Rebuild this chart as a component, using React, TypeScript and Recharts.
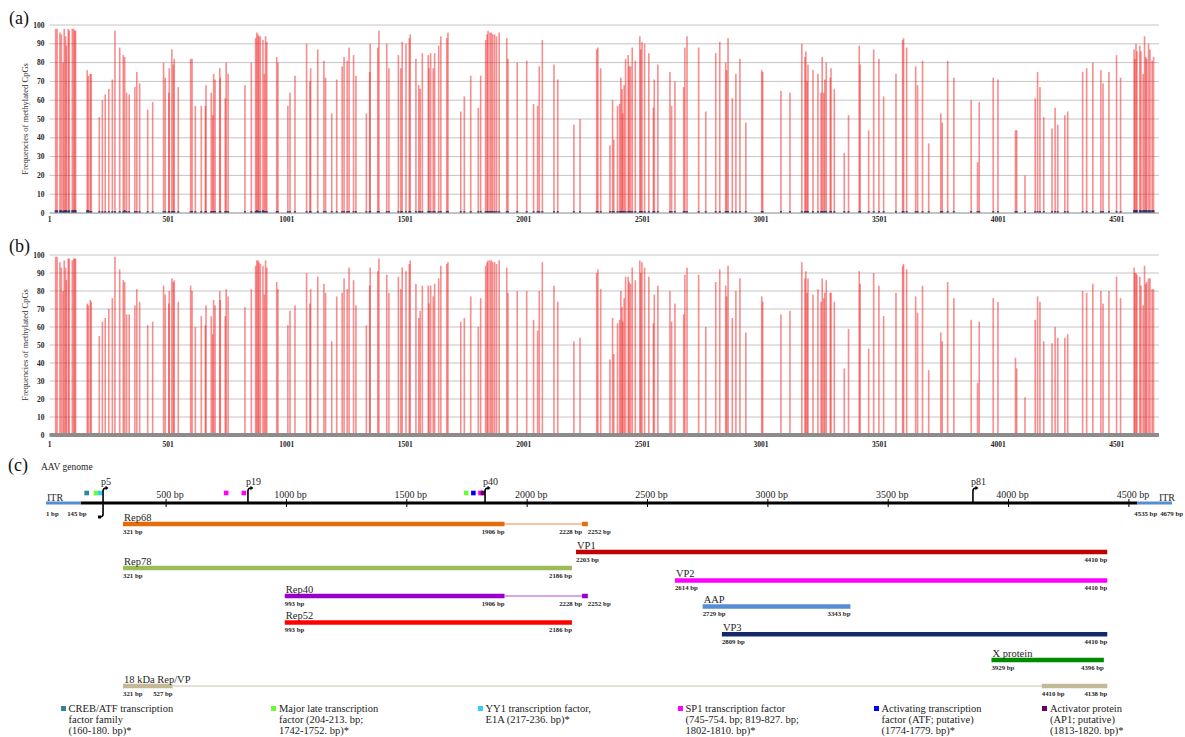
import React from 'react';
import {
  BarChart,
  Bar,
  XAxis,
  YAxis,
  CartesianGrid,
  Label,
  ComposedChart,
  ReferenceLine,
  Scatter,
} from 'recharts';

const SERIF = '"Liberation Serif", "Times New Roman", serif';

// CpG sites along the AAV genome (bp)
const cpgSites = [
  27, 33, 45, 51, 58, 63, 69, 72, 80, 84, 97, 103, 107, 111,
  160, 165, 173, 177, 211, 224, 236, 251, 266, 277, 297, 312, 318, 326, 337, 361,
  369, 381, 415, 436, 482, 489, 504, 506, 517, 523, 527, 544, 596, 602, 616, 641,
  658, 661, 683, 689, 693, 699, 719, 721, 742, 746, 754, 825, 852, 870, 875, 880,
  884, 890, 901, 907, 912, 917, 959, 964, 1006, 1015, 1036, 1085, 1099, 1102, 1132, 1158,
  1165, 1191, 1212, 1235, 1243, 1256, 1264, 1283, 1293, 1337, 1351, 1353, 1385, 1390, 1423, 1432,
  1472, 1482, 1488, 1504, 1518, 1522, 1546, 1558, 1564, 1573, 1598, 1601, 1608, 1619, 1625, 1642,
  1651, 1676, 1681, 1735, 1750, 1777, 1809, 1819, 1840, 1846, 1850, 1858, 1864, 1870, 1878, 1886,
  1897, 1929, 1934, 1973, 2013, 2042, 2059, 2066, 2079, 2128, 2144, 2212, 2238, 2308, 2313, 2325,
  2364, 2375, 2380, 2396, 2405, 2410, 2415, 2418, 2424, 2430, 2441, 2445, 2451, 2458, 2471, 2490,
  2494, 2499, 2510, 2528, 2547, 2551, 2566, 2617, 2624, 2638, 2675, 2680, 2689, 2738, 2768, 2810,
  2827, 2852, 2856, 2862, 2880, 2895, 2912, 2937, 3004, 3008, 3085, 3123, 3173, 3186, 3190, 3195,
  3199, 3220, 3241, 3254, 3259, 3265, 3270, 3276, 3293, 3296, 3310, 3352, 3370, 3415, 3419, 3455,
  3476, 3498, 3518, 3570, 3598, 3602, 3615, 3653, 3661, 3682, 3708, 3759, 3765, 3788, 3814, 3887,
  3914, 3921, 3980, 4000, 4074, 4079, 4114, 4157, 4167, 4177, 4193, 4228, 4241, 4252, 4282, 4294,
  4357, 4374, 4400, 4434, 4443, 4468, 4500, 4517,
  4574, 4577, 4582, 4586, 4598, 4603, 4612, 4618, 4623, 4627, 4635, 4641, 4650, 4656,
];

// (a) frequencies of methylated CpGs
const methA = [
  98, 98, 96, 95, 80, 98, 94, 89, 98, 97, 98, 98, 97, 97,
  76, 73, 74, 74, 51, 60, 63, 66, 71, 97, 88, 84, 83, 64, 63, 67,
  75, 69, 55, 59, 80, 72, 64, 77, 87, 79, 82, 67, 82, 82, 57, 57,
  57, 68, 64, 52, 74, 71, 77, 72, 61, 80, 74, 68, 80, 93, 96, 95,
  94, 94, 92, 74, 94, 91, 83, 80, 57, 64, 73, 90, 70, 77, 87, 81,
  72, 53, 71, 78, 83, 81, 88, 84, 73, 53, 75, 90, 88, 97, 90, 77,
  84, 77, 91, 90, 93, 95, 82, 68, 66, 85, 84, 77, 85, 77, 85, 89,
  94, 93, 96, 54, 62, 73, 56, 73, 92, 95, 97, 96, 96, 95, 95, 94,
  96, 93, 82, 80, 81, 58, 57, 78, 92, 79, 71, 47, 50, 87, 88, 77,
  36, 60, 39, 57, 58, 72, 66, 53, 68, 82, 84, 78, 78, 88, 81, 94,
  87, 91, 90, 85, 56, 71, 79, 75, 57, 70, 67, 88, 94, 88, 54, 85,
  91, 80, 76, 93, 61, 74, 82, 48, 76, 75, 65, 64, 90, 83, 86, 70,
  79, 76, 74, 64, 83, 64, 71, 80, 72, 77, 66, 32, 52, 89, 79, 44,
  87, 82, 62, 74, 92, 93, 88, 78, 68, 81, 37, 53, 48, 81, 72, 60,
  27, 59, 72, 71, 44, 44, 20, 61, 75, 67, 51, 45, 56, 47, 52, 54,
  75, 77, 80, 76, 69, 75, 84, 72,
  87, 82, 90, 86, 89, 86, 74, 94, 83, 82, 90, 87, 81, 83,
];

// (a) near-zero series drawn as dark marks at the base
const ctrlA = [
  1.5, 1.5, 1.5, 1.5, 1, 1.5, 1.5, 1.5, 1, 1.5, 1.5, 1.5, 1.5, 1.5,
  1.5, 1.5, 1, 1, 1, 1, 1, 1, 1, 1, 1, 1, 1.5, 1, 1, 1,
  1, 1, 1, 1, 1, 1, 1, 1, 1, 1, 1, 1, 1, 1, 1, 1,
  1, 1, 1, 1, 1, 1, 1, 1, 1, 1, 1, 1, 1, 1, 1.5, 1,
  1, 1, 1.5, 1, 1, 1, 1, 1, 1, 1, 1, 1, 1, 1, 1, 1,
  1, 1, 1, 1, 1, 1, 1, 1, 1, 1, 1, 1, 1, 1, 1, 1,
  1, 1, 1, 1, 1, 1, 1, 1, 1, 1, 1, 1, 1, 1, 1, 1,
  1, 1, 1, 1, 1, 1, 1, 1, 1, 1, 1, 1, 1, 1, 1, 1,
  1, 1, 1, 1, 1, 1, 1, 1, 1, 1, 1, 1, 1, 1, 1, 1,
  1, 1, 1, 1, 1, 1, 1, 1, 1, 1, 1, 1, 1, 1, 1, 1,
  1, 1, 1, 1, 1, 1, 1, 1, 1, 1, 1, 1, 1, 1, 1, 1,
  1, 1, 1, 1, 1, 1, 1, 1, 1, 1, 1, 1, 1, 1, 1, 1,
  1, 1, 1, 1, 1, 1, 1, 1, 1, 1, 1, 1, 1, 1, 1, 1,
  1, 1, 1, 1, 1, 1, 1, 1, 1, 1, 1, 1, 1, 1, 1, 1,
  1, 1, 1, 1, 1, 1, 1, 1, 1, 1, 1, 1, 1, 1, 1, 1,
  1, 1, 1, 1, 1, 1, 1, 1,
  1.5, 1.5, 1.5, 1.5, 1.5, 1.5, 1.5, 1.5, 1.5, 1.5, 1.5, 1.5, 1.5, 1.5,
];

// (b) frequencies of methylated CpGs
const methB = [
  99, 99, 96, 93, 80, 97, 93, 86, 98, 98, 97, 98, 98, 98,
  73, 72, 75, 74, 55, 63, 65, 70, 76, 99, 92, 86, 85, 67, 67, 72,
  81, 74, 61, 63, 83, 78, 73, 80, 87, 85, 86, 74, 83, 80, 60, 66,
  61, 72, 66, 56, 75, 72, 80, 75, 66, 81, 77, 71, 81, 94, 97, 97,
  96, 95, 94, 78, 97, 93, 85, 81, 61, 69, 72, 90, 73, 81, 88, 84,
  79, 52, 77, 79, 87, 81, 93, 86, 72, 61, 83, 93, 91, 98, 89, 79,
  88, 81, 93, 91, 95, 97, 84, 65, 69, 83, 83, 73, 83, 77, 84, 87,
  94, 95, 96, 63, 65, 77, 60, 76, 94, 96, 97, 97, 97, 96, 96, 95,
  97, 93, 79, 80, 80, 64, 58, 80, 96, 83, 74, 52, 54, 90, 92, 81,
  42, 65, 45, 62, 64, 80, 71, 63, 76, 88, 88, 85, 84, 93, 86, 97,
  90, 96, 93, 88, 62, 78, 83, 80, 63, 73, 67, 89, 93, 89, 60, 85,
  92, 83, 77, 94, 65, 80, 87, 57, 77, 74, 67, 69, 96, 87, 91, 79,
  87, 78, 81, 74, 87, 76, 79, 86, 79, 79, 74, 37, 59, 91, 84, 48,
  90, 83, 66, 79, 94, 95, 92, 77, 68, 83, 36, 57, 52, 85, 76, 64,
  29, 63, 76, 74, 43, 37, 21, 64, 77, 74, 52, 51, 60, 54, 54, 56,
  80, 79, 84, 80, 73, 80, 88, 76,
  93, 90, 90, 89, 88, 83, 72, 94, 84, 85, 87, 87, 81, 81,
];

const siteTicks = [1, 501, 1001, 1501, 2001, 2501, 3001, 3501, 4001, 4501];
const freqTicks = [0, 10, 20, 30, 40, 50, 60, 70, 80, 90, 100];

// genome map (c)
const genomeLength = 4679;
const genomeTicks = [500, 1000, 1500, 2000, 2500, 3000, 3500, 4000, 4500];
const itrRegions = [[1, 145], [4535, 4679]];
const itrMarks: [number, string, 'start' | 'end', number][] = [
  [1, '1 bp', 'start', 0],
  [145, '145 bp', 'end', 6],
  [4535, '4535 bp', 'start', -3],
  [4679, '4679 bp', 'end', 11],
];
const promoters = [
  { name: 'p5', at: 238, both: true },
  { name: 'p19', at: 840, both: false },
  { name: 'p40', at: 1825, both: false },
  { name: 'p81', at: 3852, both: false },
];
const tfSites = [
  { tf: 'creb', start: 160, end: 180 },
  { tf: 'mlt', start: 204, end: 213 },
  { tf: 'yy1', start: 217, end: 236 },
  { tf: 'sp1', start: 745, end: 754 },
  { tf: 'sp1', start: 819, end: 827 },
  { tf: 'mlt', start: 1742, end: 1752 },
  { tf: 'atf', start: 1774, end: 1779 },
  { tf: 'sp1', start: 1802, end: 1810 },
  { tf: 'ap1', start: 1813, end: 1820 },
];
type Mark = [number, string, 'start' | 'end'];
const proteins: { name: string; coding: number[][]; spliced: number[][]; marks: Mark[] }[] = [
  { name: 'Rep68', coding: [[321, 1906], [2228, 2252]], spliced: [[1906, 2228]],
    marks: [[321, '321 bp', 'start'], [1906, '1906 bp', 'end'], [2228, '2228 bp', 'end'], [2252, '2252 bp', 'start']] },
  { name: 'VP1', coding: [[2203, 4410]], spliced: [], marks: [[2203, '2203 bp', 'start'], [4410, '4410 bp', 'end']] },
  { name: 'Rep78', coding: [[321, 2186]], spliced: [], marks: [[321, '321 bp', 'start'], [2186, '2186 bp', 'end']] },
  { name: 'VP2', coding: [[2614, 4410]], spliced: [], marks: [[2614, '2614 bp', 'start'], [4410, '4410 bp', 'end']] },
  { name: 'Rep40', coding: [[993, 1906], [2228, 2252]], spliced: [[1906, 2228]],
    marks: [[993, '993 bp', 'start'], [1906, '1906 bp', 'end'], [2228, '2228 bp', 'end'], [2252, '2252 bp', 'start']] },
  { name: 'AAP', coding: [[2729, 3343]], spliced: [], marks: [[2729, '2729 bp', 'start'], [3343, '3343 bp', 'end']] },
  { name: 'Rep52', coding: [[993, 2186]], spliced: [], marks: [[993, '993 bp', 'start'], [2186, '2186 bp', 'end']] },
  { name: 'VP3', coding: [[2809, 4410]], spliced: [], marks: [[2809, '2809 bp', 'start'], [4410, '4410 bp', 'end']] },
  { name: 'X protein', coding: [[3929, 4396]], spliced: [], marks: [[3929, '3929 bp', 'start'], [4396, '4396 bp', 'end']] },
  { name: '18 kDa Rep/VP', coding: [[321, 527], [4138, 4410]], spliced: [[527, 4138]],
    marks: [[321, '321 bp', 'start'], [527, '527 bp', 'end'], [4138, '4410 bp', 'start'], [4410, '4138 bp', 'end']] },
];
const legendItems = [
  { tf: 'creb', lines: ['CREB/ATF transcription', 'factor family', '(160-180. bp)*'] },
  { tf: 'mlt', lines: ['Major late transcription', 'factor (204-213. bp;', '1742-1752. bp)*'] },
  { tf: 'yy1', lines: ['YY1 transcription factor,', 'E1A (217-236. bp)*'] },
  { tf: 'sp1', lines: ['SP1 transcription factor', '(745-754. bp; 819-827. bp;', '1802-1810. bp)*'] },
  { tf: 'atf', lines: ['Activating transcription', 'factor (ATF; putative)', '(1774-1779. bp)*'] },
  { tf: 'ap1', lines: ['Activator protein', '(AP1; putative)', '(1813-1820. bp)*'] },
];

// styles / layout
const tfColors: Record<string, string> = {
  creb: '#31849b', mlt: '#66ff33', yy1: '#33ccff', sp1: '#ff00ff', atf: '#0000ff', ap1: '#660066',
};
const proteinColors: Record<string, string[]> = {
  Rep68: ['#e46c0a', '#f4b183'],
  VP1: ['#c00000'],
  Rep78: ['#9bbb59'],
  VP2: ['#ff00ff'],
  Rep40: ['#9900cc', '#cc88e0'],
  AAP: ['#558ed5'],
  Rep52: ['#ff0000'],
  VP3: ['#14286a'],
  'X protein': ['#008a00'],
  '18 kDa Rep/VP': ['#c4b996', '#ddd8c4'],
};
// row of each protein bar, in map units (px from top of the map)
const rowY: Record<string, number> = {
  Rep68: 74, VP1: 102, Rep78: 118, VP2: 130.5, Rep40: 146, AAP: 156.5,
  Rep52: 172.5, VP3: 184.3, 'X protein': 210, '18 kDa Rep/VP': 236,
};
const LINE_Y = 53;
const legendX = [63, 273.5, 480, 680, 876, 1044.5];

const dataA = cpgSites.map((pos, i) => ({ pos, meth: methA[i], ctrl: ctrlA[i] }));
const dataB = cpgSites.map((pos, i) => ({ pos, meth: methB[i] }));

const thinBar = (color: string, opacity: number, w: number) => (p: any) => (
  <rect
    x={p.x + p.width / 2 - w / 2}
    y={p.y}
    width={w}
    height={Math.max(p.height, 0)}
    fill={color}
    fillOpacity={opacity}
  />
);

const tickFont = { fontSize: 7.5, fontFamily: SERIF, fontWeight: 'bold', fill: '#262626' };

function MethChart({ data, top, height, axisH, tickGap, base, ctrl }: any) {
  return (
    <div style={{ position: 'absolute', left: 0, top }}>
      <BarChart width={1185} height={height} data={data} margin={{ top: 25, right: 26, bottom: 0, left: 0 }}>
        <CartesianGrid vertical={false} stroke="#c4c4c4" />
        <XAxis
          dataKey="pos"
          type="number"
          domain={[1, genomeLength]}
          ticks={siteTicks}
          interval={0}
          height={axisH}
          tickLine={false}
          tickSize={0}
          tickMargin={tickGap}
          axisLine={base}
          tick={tickFont}
        />
        <XAxis xAxisId="ctrl" dataKey="pos" type="number" domain={[1, genomeLength]} hide />
        <YAxis
          domain={[0, 100]}
          ticks={freqTicks}
          interval={0}
          width={49.5}
          tickLine={false}
          tickSize={0}
          tickMargin={5}
          axisLine={false}
          tick={tickFont}
        >
          <Label
            value="Frequencies of methylated CpGs"
            angle={-90}
            position="center"
            style={{ fontSize: 8.5, fontFamily: SERIF, fill: '#333' }}
          />
        </YAxis>
        <Bar dataKey="meth" isAnimationActive={false} shape={thinBar('#f02020', 0.5, 1.6)} />
        {ctrl && (
          <Bar dataKey="ctrl" xAxisId="ctrl" isAnimationActive={false} shape={thinBar('#1f2a66', 0.85, 2)} />
        )}
      </BarChart>
    </div>
  );
}

type MapText = { x: number; y: number; text: string; size: number; bold?: boolean; anchor: string; dx: number };

const mapTexts: MapText[] = [
  ...genomeTicks.map((t) => ({ x: t, y: 44, text: `${t} bp`, size: 10, anchor: 'middle', dx: 4 })),
  ...promoters.map((p) => ({ x: p.at, y: 31, text: p.name, size: 10, anchor: 'start', dx: -2 })),
  { x: 1, y: 47, text: 'ITR', size: 10, anchor: 'start', dx: 1 },
  { x: genomeLength, y: 47, text: 'ITR', size: 10, anchor: 'end', dx: 3 },
  ...itrMarks.map(([at, text, anchor, dx]) => ({ x: at, y: 63, text, size: 6.8, bold: true, anchor, dx })),
  ...proteins.flatMap((pr) => [
    { x: pr.coding[0][0], y: rowY[pr.name] - 7, text: pr.name, size: 10.5, anchor: 'start', dx: 1 },
    ...pr.marks.map(([at, text, anchor]) => ({
      x: at, y: rowY[pr.name] + 7, text, size: 6.8, bold: true, anchor, dx: 0,
    })),
  ]),
];

const renderMapText = (p: any) => {
  const d: MapText = p.payload;
  return (
    <text
      x={p.cx + d.dx}
      y={p.cy}
      textAnchor={d.anchor as any}
      dominantBaseline="central"
      fontFamily={SERIF}
      fontSize={d.size}
      fontWeight={d.bold ? 'bold' : 'normal'}
      fill="#262626"
    >
      {d.text}
    </text>
  );
};

const renderPromoter = (p: any) => {
  const { cx, cy } = p;
  const both = p.payload.both;
  const path = both
    ? `M${cx + 3},${cy - 15} Q${cx},${cy - 15} ${cx},${cy - 12} L${cx},${cy + 11} Q${cx},${cy + 14} ${cx - 3},${cy + 14}`
    : `M${cx},${cy} L${cx},${cy - 12} Q${cx},${cy - 15} ${cx + 3},${cy - 15}`;
  return (
    <g>
      <path d={path} stroke="#000" strokeWidth={1.6} fill="none" />
      <path d={`M${cx + 2.5},${cy - 17.2} L${cx + 5.5},${cy - 15} L${cx + 2.5},${cy - 12.8} Z`} fill="#000" />
      {both && <rect x={cx - 5} y={cy + 12.5} width={3} height={3} fill="#000" />}
    </g>
  );
};

const renderSite = (p: any) => (
  <rect x={p.cx - 2.3} y={p.cy - 2.3} width={4.6} height={4.6} fill={tfColors[p.payload.tf]} />
);

const seg = (a: number, b: number, y: number) => [{ x: a, y }, { x: b, y }];

function GenomeMap() {
  return (
    <div style={{ position: 'absolute', left: 0, top: 450 }}>
      <ComposedChart width={1185} height={287} margin={{ top: 0, right: 13, bottom: 0, left: 46 }}>
        <XAxis dataKey="x" type="number" domain={[1, genomeLength]} hide />
        <YAxis dataKey="y" type="number" domain={[0, 287]} reversed hide />
        <ReferenceLine segment={seg(145, 4535, LINE_Y)} stroke="#000" strokeWidth={3} ifOverflow="visible" />
        {itrRegions.map(([a, b]) => (
          <ReferenceLine key={a} segment={seg(a, b, LINE_Y)} stroke="#558ed5" strokeWidth={3} ifOverflow="visible" />
        ))}
        {genomeTicks.map((t) => (
          <ReferenceLine
            key={t}
            segment={[{ x: t, y: LINE_Y - 4 }, { x: t, y: LINE_Y + 4 }]}
            stroke="#000"
            strokeWidth={1}
            ifOverflow="visible"
          />
        ))}
        {proteins.flatMap((pr) => [
          ...pr.spliced.map(([a, b]) => (
            <ReferenceLine
              key={`${pr.name}-s${a}`}
              segment={seg(a, b, rowY[pr.name])}
              stroke={proteinColors[pr.name][1]}
              strokeWidth={1.6}
              ifOverflow="visible"
            />
          )),
          ...pr.coding.map(([a, b]) => (
            <ReferenceLine
              key={`${pr.name}-c${a}`}
              segment={seg(a, b, rowY[pr.name])}
              stroke={proteinColors[pr.name][0]}
              strokeWidth={4.5}
              ifOverflow="visible"
            />
          )),
        ])}
        <Scatter
          data={tfSites.map((s) => ({ x: (s.start + s.end) / 2, y: 43, tf: s.tf }))}
          shape={renderSite}
          isAnimationActive={false}
        />
        <Scatter
          data={promoters.map((p) => ({ x: p.at, y: LINE_Y, both: p.both }))}
          shape={renderPromoter}
          isAnimationActive={false}
        />
        <Scatter data={mapTexts} shape={renderMapText} isAnimationActive={false} />
      </ComposedChart>
    </div>
  );
}

const panelLabel = (text: string, left: number, cy: number) => (
  <div
    style={{
      position: 'absolute', left, top: cy - 10, fontFamily: SERIF, fontSize: 18, lineHeight: '20px', color: '#111',
    }}
  >
    {text}
  </div>
);

export default function App() {
  return (
    <div
      style={{
        position: 'absolute', left: 0, top: 0, width: 1185, height: 737, background: '#fff', overflow: 'hidden',
      }}
    >
      <MethChart
        data={dataA}
        top={0}
        height={225}
        axisH={12}
        tickGap={4}
        base={{ stroke: '#a6a6a6' }}
        ctrl
      />
      <MethChart
        data={dataB}
        top={230}
        height={225}
        axisH={20}
        tickGap={7}
        base={{ stroke: '#8c8c8c', strokeWidth: 4 }}
        ctrl={false}
      />
      <GenomeMap />
      {panelLabel('(a)', 9, 18)}
      {panelLabel('(b)', 9, 246)}
      {panelLabel('(c)', 8, 465)}
      <div style={{ position: 'absolute', left: 41, top: 461, fontFamily: SERIF, fontSize: 9.5, lineHeight: '12px', color: '#222' }}>
        AAV genome
      </div>
      {legendItems.map((it, i) => (
        <div key={it.tf} style={{ position: 'absolute', left: legendX[i], top: 702.5 }}>
          <div
            style={{
              position: 'absolute', left: -2.5, top: 3, width: 5, height: 5, background: tfColors[it.tf],
            }}
          />
          <div
            style={{
              position: 'absolute', left: 5.5, top: 0, whiteSpace: 'nowrap', fontFamily: SERIF,
              fontSize: 10.5, lineHeight: '11px', color: '#222',
            }}
          >
            {it.lines.map((l) => (
              <div key={l}>{l}</div>
            ))}
          </div>
        </div>
      ))}
    </div>
  );
}
